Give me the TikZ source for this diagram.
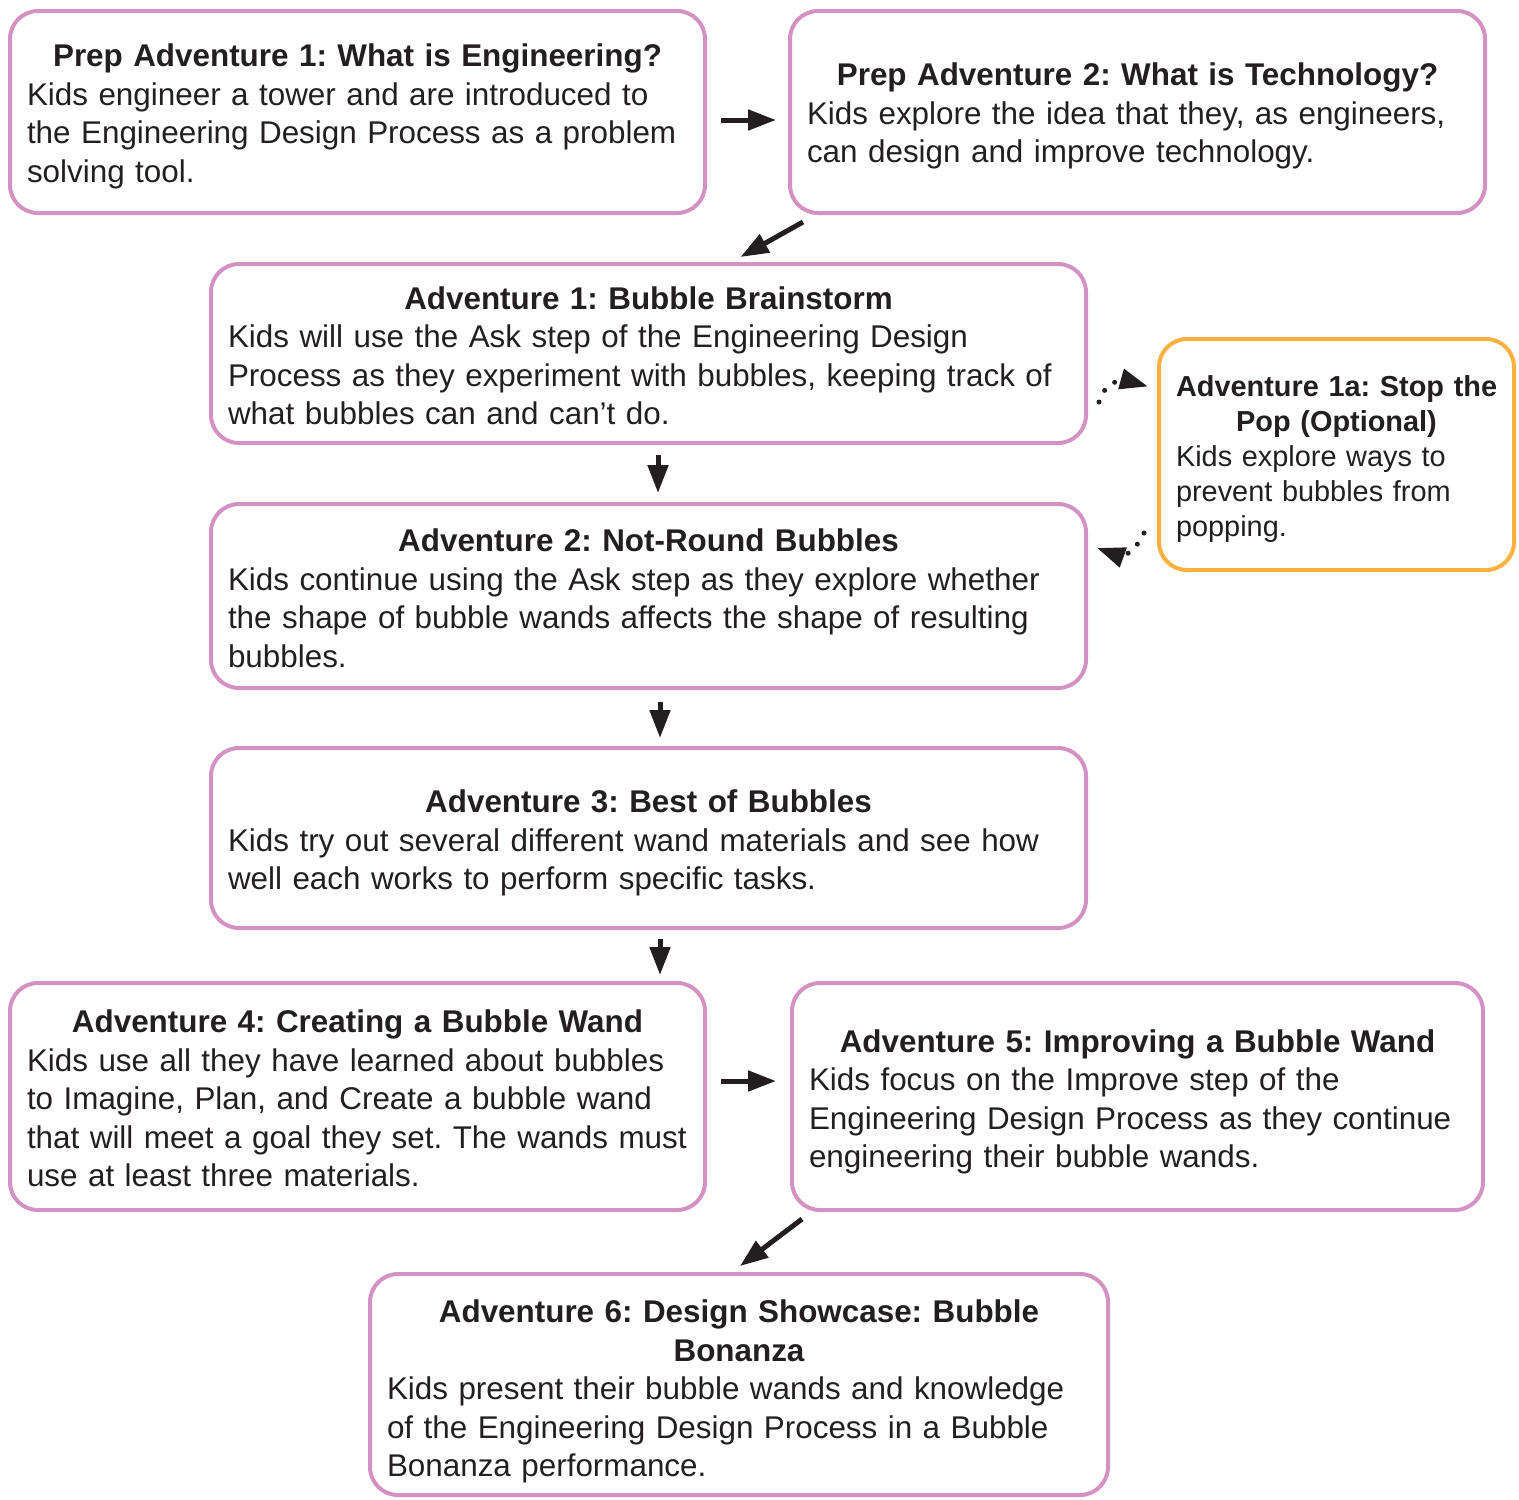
\documentclass[tikz,border=0pt]{standalone}
\usepackage{fontspec}
\setmainfont{Liberation Sans}
\usetikzlibrary{arrows.meta,calc}
\definecolor{pinkb}{RGB}{212,145,196}
\definecolor{orangeb}{RGB}{251,176,64}
\definecolor{ink}{RGB}{35,31,32}
\newcommand\oneline[1]{\mbox{#1}}
\newcommand\boxtitle[2]{{\centering\bfseries\rule{0pt}{#1pt}#2\par}}
\frenchspacing
\hyphenpenalty=10000
\hfuzz=20pt
\begin{document}
\begin{tikzpicture}[x=0.5pt,y=-0.5pt,
 box/.style={draw=pinkb, line width=2pt, rounded corners=14pt, inner xsep=8.5pt, inner ysep=0pt,
   align=left, text=ink, font=\fontsize{15.7}{19.25}\selectfont\frenchspacing},
 arr/.style={draw=ink, line width=2.5pt, -{Triangle[length=14pt,width=10pt]}},
 dotarr/.style={draw=ink, line width=2.5pt, dash pattern=on 0pt off 6.5pt, line cap=round,
   -{Triangle[length=14pt,width=10pt]}}]
\useasboundingbox (0,0) rectangle (1519,1499);

\node[box, text width=330.5pt, minimum height=101pt] (b1) at (357.5,112)
 {\boxtitle{15.6}{\oneline{Prep Adventure 1: What is Engineering?}}
  \oneline{Kids engineer a tower and are introduced to}\\\oneline{the Engineering Design Process as a problem}\\solving tool.};
\node[box, text width=330.5pt, minimum height=101pt] (b2) at (1137.5,112)
 {\boxtitle{15.6}{\oneline{Prep Adventure 2: What is Technology?}}
  \oneline{Kids explore the idea that they, as engineers,}\\\oneline{can design and improve technology.}};
\node[box, text width=420.5pt, minimum height=89.5pt] (a1) at (648.5,353.5)
 {\boxtitle{13.6}{Adventure 1: Bubble Brainstorm}
  \oneline{Kids will use the Ask step of the Engineering Design}\\\oneline{Process as they experiment with bubbles, keeping track of}\\\oneline{what bubbles can and can’t do.}};
\node[box, draw=orangeb, text width=160.5pt, minimum height=115.5pt,
      font=\fontsize{14.45}{17.5}\selectfont\frenchspacing] (a1a) at (1336.5,454.5)
 {\boxtitle{14.6}{\oneline{Adventure 1a: Stop the}\\Pop (Optional)}
  \oneline{Kids explore ways to}\\\oneline{prevent bubbles from}\\popping.};
\node[box, text width=420.5pt, minimum height=92pt] (a2) at (648.5,596)
 {\boxtitle{13.6}{Adventure 2: Not-Round Bubbles}
  \oneline{Kids continue using the Ask step as they explore whether}\\\oneline{the shape of bubble wands affects the shape of resulting}\\bubbles.};
\node[box, text width=420.5pt, minimum height=90pt] (a3) at (648.5,838)
 {\boxtitle{16.6}{Adventure 3: Best of Bubbles}
  \oneline{Kids try out several different wand materials and see how}\\\oneline{well each works to perform specific tasks.}};
\node[box, text width=330.5pt, minimum height=113.5pt] (a4) at (357.5,1096.5)
 {\boxtitle{13.6}{\oneline{Adventure 4: Creating a Bubble Wand}}
  \oneline{Kids use all they have learned about bubbles}\\\oneline{to Imagine, Plan, and Create a bubble wand}\\\oneline{that will meet a goal they set. The wands must}\\\oneline{use at least three materials.}};
\node[box, text width=328.5pt, minimum height=113.5pt] (a5) at (1137.5,1096.5)
 {\boxtitle{16.6}{\oneline{Adventure 5: Improving a Bubble Wand}}
  \oneline{Kids focus on the Improve step of the}\\\oneline{Engineering Design Process as they continue}\\\oneline{engineering their bubble wands.}};
\node[box, text width=352pt, minimum height=110.5pt] (a6) at (739,1384.5)
 {\boxtitle{18.6}{\oneline{Adventure 6: Design Showcase: Bubble}\\Bonanza}
  \oneline{Kids present their bubble wands and knowledge}\\\oneline{of the Engineering Design Process in a Bubble}\\\oneline{Bonanza performance.}};

% connectors
\draw[arr, shorten <=7pt, shorten >=6pt] ([yshift=-4pt]b1.east) -- ([yshift=-4pt]b2.west);
\draw[arr] ($(b2.south west)+(15,7)$) -- ($(a1.north)+(92,-5)$);
\draw[arr, shorten <=5pt, shorten >=4.5pt] ([xshift=4.75pt]a1.south) -- ([xshift=4.75pt]a2.north);
\draw[arr, shorten <=6pt, shorten >=4pt] ([xshift=5.75pt]a2.south) -- ([xshift=5.75pt]a3.north);
\coordinate (p5) at ($(a3.south)+(11.5,0)$);
\draw[arr, shorten <=4.5pt, shorten >=3pt] (p5) -- (p5 |- a4.north);
\draw[arr, shorten <=7pt, shorten >=7pt] ([yshift=7.75pt]a4.east) -- ([yshift=7.75pt]a5.west);
\draw[arr] ($(a5.south west)+(12,7)$) -- ($(a6.north)+(1,-6)$);
\coordinate (d1s) at ($(a1.east)+(11,48.5)$);
\coordinate (d1e) at ($(a1a.west)+(-9,-68)$);
\draw[dotarr] (d1s) .. controls +(5,-20) and +(-25,-7) .. (d1e);
\coordinate (d2s) at ($(a1a.west)+(-13,78.5)$);
\coordinate (d2e) at ($(a2.east)+(9,-48)$);
\draw[dotarr] (d2s) .. controls +(-8,18) and +(25,9) .. (d2e);
\end{tikzpicture}
\end{document}
